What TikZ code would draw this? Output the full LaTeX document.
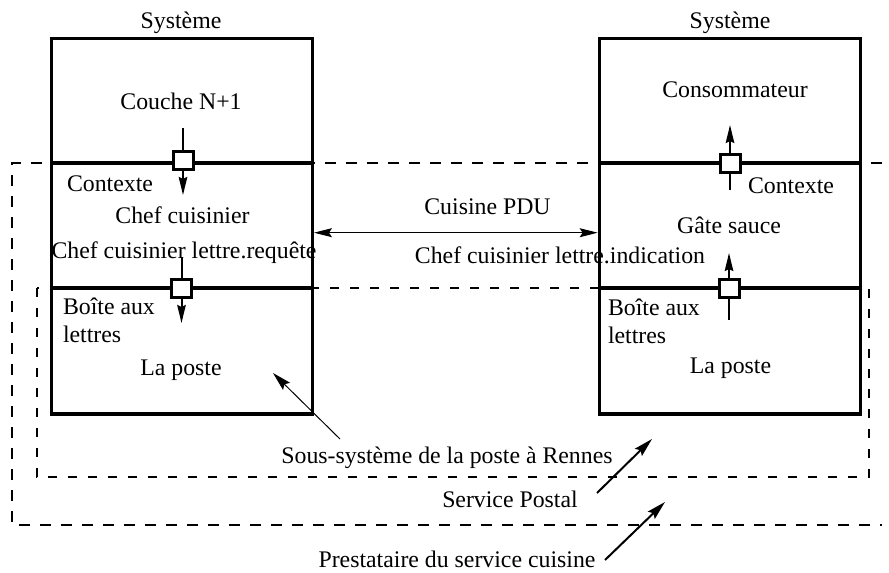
\documentclass[tikz,border=0pt]{standalone}
\usepackage{fontspec}
\setmainfont{Liberation Serif}
\usetikzlibrary{arrows.meta}
\begin{document}
\begin{tikzpicture}[x=1pt,y=-1pt,
  lbl/.style={font=\fontsize{23.8}{28.5}\selectfont, inner sep=0pt, outer sep=0pt},
  sysbox/.style={draw, line width=3.3pt, inner sep=0pt},
  divline/.style={line width=3.3pt},
  port/.style={draw, fill=white, line width=3pt, minimum width=20pt, minimum height=18pt, inner sep=0pt},
  stem/.style={line width=2pt},
  thickarrow/.style={line width=2pt, -{Stealth[length=18pt,width=8.5pt,inset=2pt]}},
  thinarrow/.style={line width=1pt, -{Stealth[length=19pt,width=10pt,inset=3pt]}},
  obliquearrow/.style={line width=2pt, -{Stealth[length=19pt,width=10pt,inset=3pt]}},
  dblarrow/.style={line width=1pt, {Stealth[length=18pt,width=9pt,inset=3pt]}-{Stealth[length=18pt,width=9pt,inset=3pt]}},
  outerdash/.style={line width=2.8pt, dash pattern=on 11pt off 10pt},
  innerdash/.style={line width=2pt, dash pattern=on 9pt off 11pt},
]
\fill[white] (0,0) rectangle (889,573);
\useasboundingbox (0,0) rectangle (889,573);

% dashed service boundaries
\draw[outerdash] (882,163) -- (12,163) -- (12,525) -- (882,525);
\draw[innerdash] (37,288) rectangle (869,477);

% systems
\node[sysbox, minimum width=260.6pt, minimum height=375.7pt] (L) at (182,226.15) {};
\node[sysbox, minimum width=261.4pt, minimum height=375.7pt] (R) at (730,226.15) {};
\draw[divline] (51.7,163) -- (312.3,163);
\draw[divline] (51.7,288) -- (312.3,288);
\draw[divline] (599.3,163) -- (860.7,163);
\draw[divline] (599.3,288) -- (860.7,288);

% labels
\node[lbl, anchor=base] (sysL) at (181,28.5) {Système};
\node[lbl, anchor=base] (sysR) at (730,28.5) {Système};
\node[lbl, anchor=base] (couche) at (181,109) {Couche N+1};
\node[lbl, anchor=base] (conso) at (735,97) {Consommateur};
\node[lbl, anchor=base west] (ctxL) at (67,191.5) {Contexte};
\node[lbl, anchor=base] (chef) at (182.5,223) {Chef cuisinier};
\node[lbl, anchor=base] (req) at (184,258) {Chef cuisinier lettre.requête};
\node[lbl, anchor=base west] (blL1) at (63,314) {Boîte aux};
\node[lbl, anchor=base west] (blL2) at (63,342) {lettres};
\node[lbl, anchor=base] (posteL) at (181,375) {La poste};
\node[lbl, anchor=base] (cuisine) at (487.5,214) {Cuisine PDU};
\node[lbl, anchor=base] (ind) at (560,263) {Chef cuisinier lettre.indication};
\node[lbl, anchor=base west] (ctxR) at (748,193) {Contexte};
\node[lbl, anchor=base] (gate) at (729,233) {Gâte sauce};
\node[lbl, anchor=base west] (blR1) at (608,315) {Boîte aux};
\node[lbl, anchor=base west] (blR2) at (608,343) {lettres};
\node[lbl, anchor=base] (posteR) at (730.5,373) {La poste};
\node[lbl, anchor=base] (sous) at (447,463) {Sous-système de la poste à Rennes};
\node[lbl, anchor=base] (postal) at (510,507) {Service Postal};
\node[lbl, anchor=base] (presta) at (457,567) {Prestataire du service cuisine};

% service access points
\coordinate (sL1) at (183,128);   \coordinate (tL1) at (183,195);
\coordinate (sL2) at (181.5,257); \coordinate (tL2) at (181.5,323);
\coordinate (tR1) at (730,125);   \coordinate (sR1) at (730,190);
\coordinate (tR2) at (729,253);   \coordinate (sR2) at (729,320);

\draw[stem] (sL1) -- (183,150);
\draw[stem] (sL2) -- (181.5,278);
\draw[stem] (sR1) -- (730,172);
\draw[stem] (sR2) -- (729,297);

\node[port] (pL1) at (183,160) {};
\node[port] (pL2) at (181.5,288) {};
\node[port] (pR1) at (730,163) {};
\node[port] (pR2) at (729,288.5) {};

\draw[thickarrow] (pL1) -- (tL1);
\draw[thickarrow] (pL2) -- (tL2);
\draw[thickarrow] (pR1) -- (tR1);
\draw[thickarrow] (pR2) -- (tR2);

% peer protocol
\coordinate (hy) at (0,232.7);
\draw[dblarrow] (L.east |- hy) -- (R.west |- hy);

% pointers
\coordinate (sousA) at (340,439);  \coordinate (sousT) at (273,373);
\coordinate (postA) at (597,493);  \coordinate (postT) at (652,439);
\coordinate (prestA) at (605,560); \coordinate (prestT) at (665,502);
\draw[thinarrow] (sousA) -- (sousT);
\draw[obliquearrow] (postA) -- (postT);
\draw[obliquearrow] (prestA) -- (prestT);
\end{tikzpicture}
\end{document}
